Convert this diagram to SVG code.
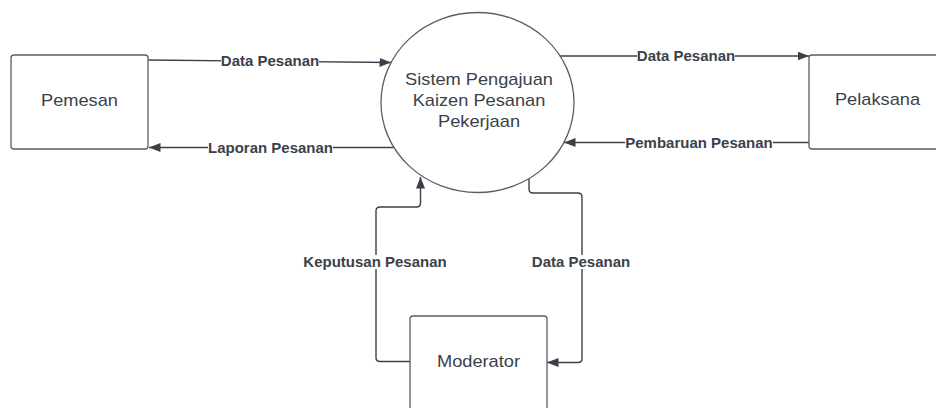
<svg xmlns="http://www.w3.org/2000/svg" width="936" height="408" viewBox="0 0 936 408">
  <defs>
    <style>
      .shape { fill: #ffffff; stroke: #5e5e5e; stroke-width: 1.3; }
      .node-text { font-family: "Liberation Sans", Arial, sans-serif; font-size: 17px; fill: #3a414a; text-anchor: middle; }
      .link { fill: none; stroke: #3a414a; stroke-width: 1.4; marker-end: url(#arrow); }
      .label-bg { fill: #ffffff; }
      .label { font-family: "Liberation Sans", Arial, sans-serif; font-size: 14px; font-weight: bold; fill: #3a414a; text-anchor: middle; }
    </style>
    <marker id="arrow" markerUnits="userSpaceOnUse" markerWidth="12" markerHeight="10" refX="11.5" refY="4.5" orient="auto">
      <path d="M0,0 L11.5,4.5 L0,9 Z" fill="#3a414a"/>
    </marker>
  </defs>

  <rect width="936" height="408" fill="#ffffff"/>

  <!-- data flows -->
  <g id="connectors">
    <path class="link" d="M148,60 L391,62.5"/>
    <path class="link" d="M394,147.5 L149,147.5"/>
    <path class="link" d="M560,56 L809,56"/>
    <path class="link" d="M809,142.5 L564,142.5"/>
    <path class="link" d="M410,361.5 H380 Q376,361.5 376,357.5 V211 Q376,207 380,207 H416.5 Q420.5,207 420.5,203 V177"/>
    <path class="link" d="M529,178.5 V189 Q529,193 533,193 H578 Q582,193 582,197 V358.5 Q582,362.5 578,362.5 H547"/>

    <rect class="label-bg" x="221" y="53" width="98" height="14"/>
    <text class="label" transform="translate(270,65.5) scale(1.072,1)">Data Pesanan</text>

    <rect class="label-bg" x="208" y="140.5" width="125" height="14"/>
    <text class="label" transform="translate(270.5,152.5) scale(1.072,1)">Laporan Pesanan</text>

    <rect class="label-bg" x="637" y="49" width="98" height="14"/>
    <text class="label" transform="translate(686,61) scale(1.072,1)">Data Pesanan</text>

    <rect class="label-bg" x="625" y="135.5" width="148" height="14"/>
    <text class="label" transform="translate(699,147.5) scale(1.072,1)">Pembaruan Pesanan</text>

    <rect class="label-bg" x="303" y="255" width="144" height="14"/>
    <text class="label" transform="translate(375,267) scale(1.072,1)">Keputusan Pesanan</text>

    <rect class="label-bg" x="532" y="255" width="98" height="14"/>
    <text class="label" transform="translate(581,267) scale(1.072,1)">Data Pesanan</text>
  </g>

  <!-- external entity: Pemesan -->
  <g id="pemesan">
    <rect class="shape" x="11" y="55" width="137" height="94" rx="3"/>
    <text class="node-text" transform="translate(79.5,106) scale(1.072,1)">Pemesan</text>
  </g>

  <!-- process -->
  <g id="sistem">
    <ellipse class="shape" cx="477.5" cy="102.5" rx="96.5" ry="90"/>
    <text class="node-text" transform="translate(479,85) scale(1.072,1)">Sistem Pengajuan</text>
    <text class="node-text" transform="translate(479,106) scale(1.072,1)">Kaizen Pesanan</text>
    <text class="node-text" transform="translate(479,127) scale(1.072,1)">Pekerjaan</text>
  </g>

  <!-- external entity: Pelaksana -->
  <g id="pelaksana">
    <rect class="shape" x="809" y="55" width="137" height="94" rx="3"/>
    <text class="node-text" transform="translate(877.5,105) scale(1.072,1)">Pelaksana</text>
  </g>

  <!-- external entity: Moderator -->
  <g id="moderator">
    <rect class="shape" x="410" y="316" width="137" height="94" rx="3"/>
    <text class="node-text" transform="translate(478.5,367) scale(1.072,1)">Moderator</text>
  </g>
</svg>
